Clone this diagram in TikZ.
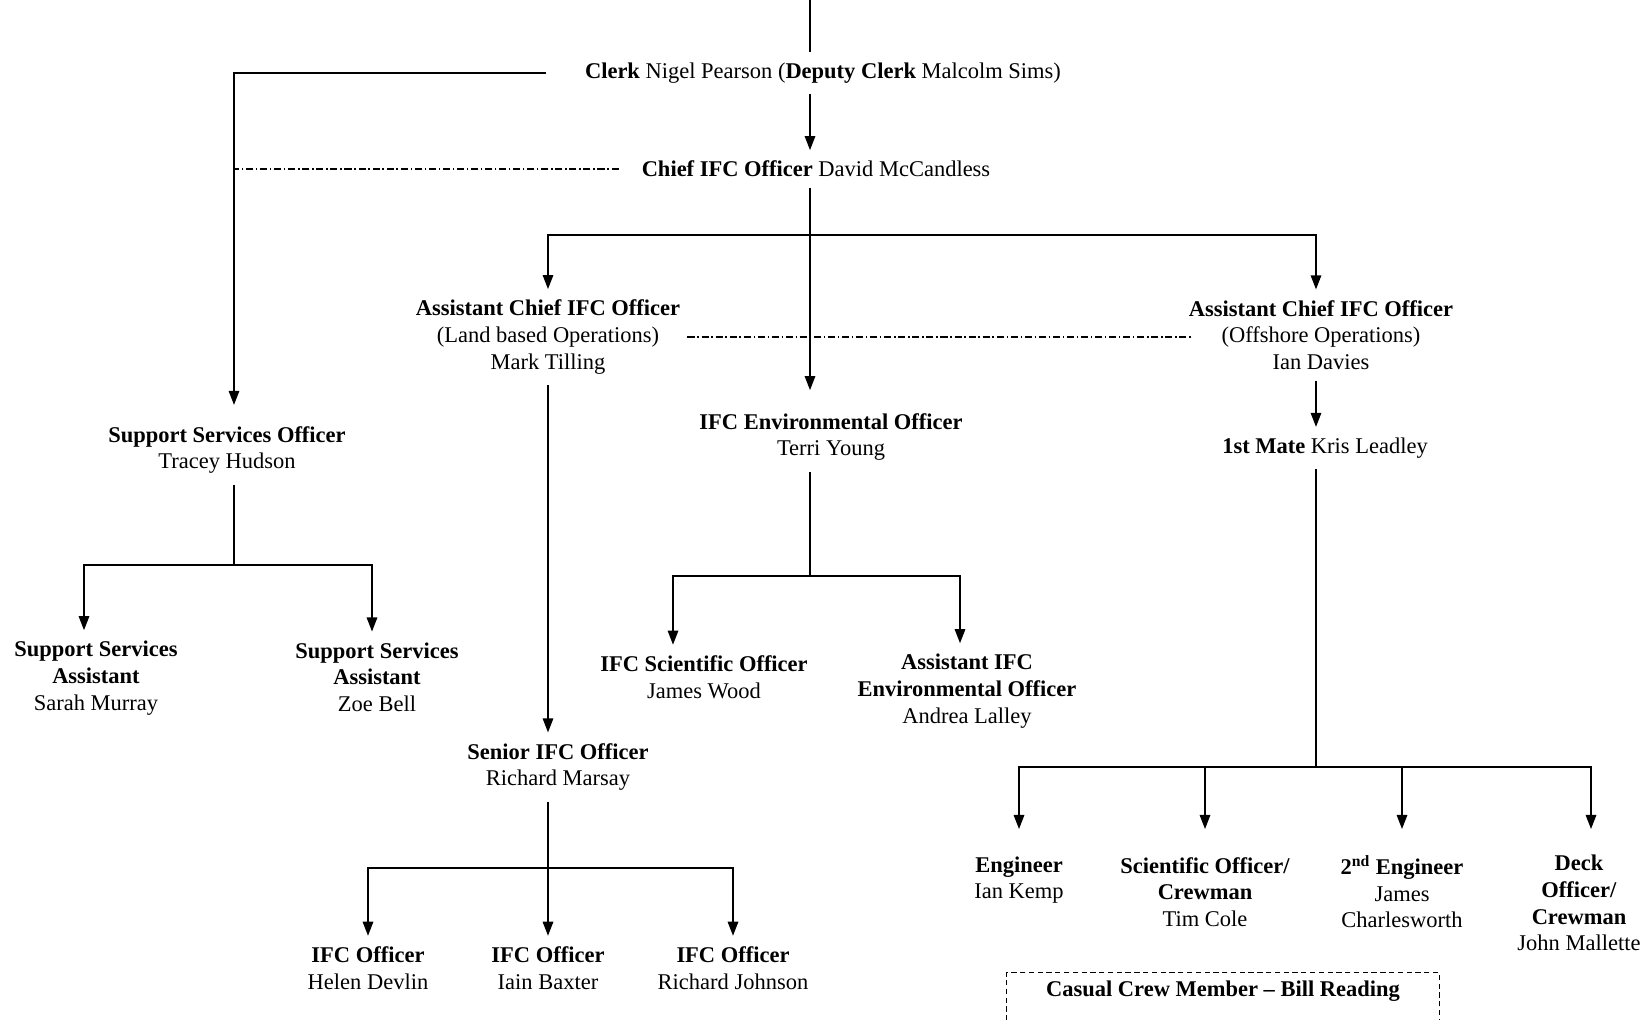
\documentclass[tikz,border=0pt]{standalone}
\usepackage{fontspec}
\setmainfont{Liberation Serif}
\usetikzlibrary{positioning,calc,arrows.meta}

\begin{document}
\begin{tikzpicture}[x=0.02cm,y=-0.02cm,
    poste/.style={align=center,inner xsep=4pt,inner ysep=6pt,font=\fontsize{12.8}{15.2}\selectfont},
    lien/.style={line width=0.8pt},
    fleche/.style={lien,-{Triangle[length=8pt,width=6pt]}},
    pointille/.style={line width=0.6pt,dash pattern=on 4pt off 1.6pt on 0.8pt off 1.6pt},
    casual/.style={poste,draw,line width=0.6pt,dash pattern=on 3pt off 2pt,minimum width=8.66cm,text depth=30pt,inner ysep=4.5pt,anchor=base}]

\useasboundingbox (0,0) rectangle (1646,1019);
\clip (0,0) rectangle (1646,1019);

\coordinate (top) at (810,0);
\coordinate (lft) at (234,0);
\coordinate (rgt) at (1316,0);
\coordinate (bar) at (810,235);
\coordinate (ssbar) at (234,565);
\coordinate (envbar) at (810,576);
\coordinate (snbar) at (548,868);
\coordinate (crew) at (1316,767);
\coordinate (crewtip) at (0,829);

\node[poste] (clerk) at (823,73) {\textbf{Clerk} Nigel Pearson (\textbf{Deputy Clerk} Malcolm Sims)};
\node[poste] (chief) at (816,169) {\textbf{Chief IFC Officer} David McCandless};

\node[poste] (acland) at (548,337) {\textbf{Assistant Chief IFC Officer}\\(Land based Operations)\\Mark Tilling};
\node[poste] (acoff) at (1321,335) {\textbf{Assistant Chief IFC Officer}\\(Offshore Operations)\\Ian Davies};

\node[poste] (sso) at (227,450) {\textbf{Support Services Officer}\\Tracey Hudson};
\node[poste] (ssa1) at (96,678) {\textbf{Support Services}\\\textbf{Assistant}\\Sarah Murray};
\node[poste] (ssa2) at (377,677) {\textbf{Support Services}\\\textbf{Assistant}\\Zoe Bell};

\node[poste] (envo) at (831,437) {\textbf{IFC Environmental Officer}\\Terri Young};
\node[poste] (sci) at (704,677) {\textbf{IFC Scientific Officer}\\James Wood};
\node[poste] (aenv) at (967,691) {\textbf{Assistant IFC}\\\textbf{Environmental Officer}\\Andrea Lalley};

\node[poste] (senior) at (558,767) {\textbf{Senior IFC Officer}\\Richard Marsay};
\node[poste] (ifc1) at (368,968) {\textbf{IFC Officer}\\Helen Devlin};
\node[poste] (ifc2) at (548,968) {\textbf{IFC Officer}\\Iain Baxter};
\node[poste] (ifc3) at (733,968) {\textbf{IFC Officer}\\Richard Johnson};

\node[poste] (mate) at (1325,448) {\textbf{1st Mate} Kris Leadley};
\node[poste] (eng) at (1019,880) {\textbf{Engineer}\\Ian Kemp};
\node[poste] (scicrew) at (1205,892) {\textbf{Scientific Officer/}\\\textbf{Crewman}\\Tim Cole};
\node[poste] (eng2) at (1402,892) {\textbf{2\textsuperscript{nd} Engineer}\\James\\Charlesworth};
\node[poste] (deck) at (1579,903) {\textbf{Deck}\\\textbf{Officer/}\\\textbf{Crewman}\\John Mallette};

\node[casual] (casual) at (1223,996) {\textbf{Casual Crew Member -- Bill Reading}};

\draw[lien] (top) -- (top |- clerk.north);
\draw[fleche] (clerk.south -| top) -- (chief.north -| top);
\draw[fleche] ([xshift=-18pt]clerk.west) -| ([yshift=6pt]sso.north -| lft);
\draw[pointille] ([xshift=-9pt]chief.west) -- (chief.west -| lft);

\draw[fleche] (chief.south -| top) -- ([yshift=7pt]envo.north -| top);
\draw[fleche] (bar) -| (acland.north);
\draw[fleche] (bar) -| (acoff.north -| rgt);
\draw[pointille] (acland.east) -- ([xshift=6pt]acland.east -| acoff.west);

\draw[lien] (sso.south -| lft) -- (ssbar);
\draw[fleche] (ssbar) -| ($(ssa1.north)+(-12,0)$);
\draw[fleche] (ssbar) -| ($(ssa2.north)+(-5,0)$);

\draw[lien] (envo.south -| top) -- (envbar);
\draw[fleche] (envbar) -| ($(sci.north)+(-31,0)$);
\draw[fleche] (envbar) -| ($(aenv.north)+(-7,0)$);

\draw[fleche] (acland.south) -- (senior.north -| acland.south);
\draw[lien] (senior.south -| snbar) -- (snbar);
\foreach \n in {ifc1,ifc2,ifc3}
    \draw[fleche] (snbar) -| (\n.north);

\draw[fleche] (acoff.south -| rgt) -- (mate.north -| rgt);
\draw[lien] (mate.south -| rgt) -- (crew);
\foreach \n in {eng,scicrew,eng2}
    \draw[fleche] (crew) -| (\n.north |- crewtip);
\draw[fleche] (crew) -| ($(deck.north |- crewtip)+(12,0)$);

\end{tikzpicture}
\end{document}
